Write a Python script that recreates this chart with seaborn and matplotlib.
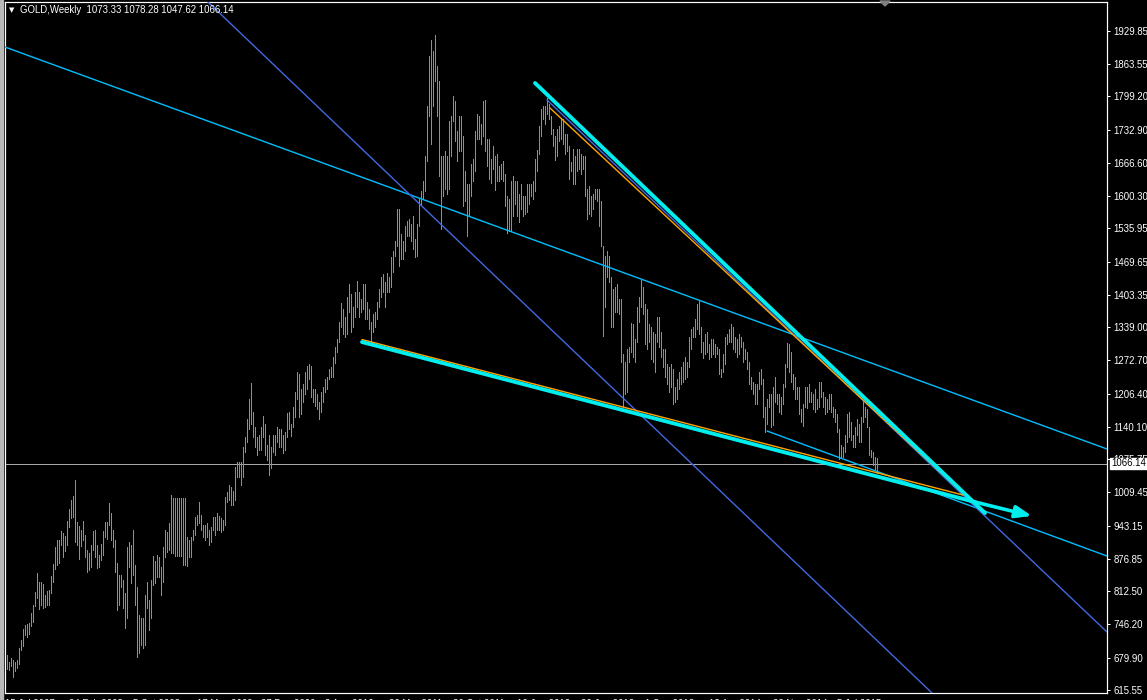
import numpy as np
import matplotlib
matplotlib.use("Agg")
import matplotlib.pyplot as plt
import seaborn as sns
from matplotlib.patches import Polygon, Rectangle

# ---------------- data (weekly GOLD highs / lows, bar 0 = week of 15 Jul 2007) -------------
highs_2007 = [684, 686, 672, 680, 675, 672, 676, 700, 716, 738, 745, 748, 750, 769, 785, 810,
              848, 830, 830, 826, 806, 813, 815, 842, 866]
lows_2007 = [662, 658, 655, 663, 642, 654, 660, 668, 696, 704, 725, 722, 727, 744, 752, 784,
             800, 778, 786, 780, 781, 785, 785, 808, 830]
highs_2008 = [900, 915, 915, 933, 928, 923, 952, 976, 994, 1003, 1034, 950, 943, 935, 952, 925,
              895, 888, 905, 932, 935, 905, 885, 907, 932, 950, 950, 988, 968, 935, 915, 868,
              845, 845, 835, 808, 900, 910, 905, 935, 865, 820, 765, 760, 760, 805, 830, 795,
              835, 882, 872, 885]
lows_2008 = [856, 865, 868, 905, 880, 893, 905, 940, 958, 960, 910, 905, 876, 903, 915, 880,
             850, 855, 860, 895, 880, 858, 860, 875, 885, 920, 917, 945, 915, 900, 850, 775,
             785, 820, 780, 740, 760, 860, 828, 845, 785, 681, 690, 705, 700, 705, 780, 735,
             760, 825, 828, 840]
highs_2009 = [880, 860, 900, 935, 930, 948, 1004, 998, 998, 998, 998, 998, 998, 998, 921, 915,
              920, 935, 960, 965, 990, 965, 945, 945, 948, 935, 940, 960, 960, 968, 962, 958,
              955, 1000, 1010, 1025, 1020, 1012, 1060, 1071, 1070, 1070, 1100, 1120, 1155, 1196,
              1227, 1170, 1140, 1120, 1125, 1140]
lows_2009 = [840, 805, 830, 880, 890, 895, 889, 889, 882, 882, 882, 882, 864, 864, 863, 880,
             880, 915, 925, 945, 948, 935, 920, 915, 920, 905, 910, 935, 925, 935, 935, 930,
             935, 945, 990, 995, 985, 985, 995, 1040, 1040, 1025, 1040, 1090, 1110, 1135,
             1145, 1120, 1100, 1085, 1095, 1095]
highs_2010 = [1162, 1145, 1105, 1125, 1100, 1125, 1125, 1140, 1135, 1135, 1125, 1130, 1168, 1170,
              1145, 1180, 1210, 1249, 1245, 1215, 1225, 1250, 1262, 1265, 1262, 1215, 1215, 1205,
              1190, 1210, 1220, 1235, 1240, 1255, 1260, 1280, 1300, 1315, 1350, 1388, 1375, 1360,
              1400, 1425, 1405, 1380, 1410, 1432, 1410, 1395, 1425, 1425]
lows_2010 = [1120, 1085, 1075, 1045, 1058, 1090, 1085, 1110, 1100, 1100, 1088, 1095, 1120, 1135,
             1123, 1140, 1160, 1195, 1160, 1165, 1190, 1205, 1215, 1235, 1200, 1190, 1182, 1175,
             1155, 1170, 1190, 1210, 1215, 1235, 1240, 1240, 1268, 1290, 1310, 1340, 1325, 1320,
             1325, 1370, 1330, 1340, 1360, 1380, 1360, 1370, 1375, 1355]
highs_2011 = [1390, 1375, 1350, 1365, 1370, 1390, 1415, 1440, 1445, 1430, 1448, 1440, 1478, 1490,
              1510, 1575, 1575, 1525, 1510, 1540, 1550, 1555, 1545, 1560, 1515, 1545, 1595, 1610,
              1630, 1680, 1780, 1880, 1912, 1890, 1921, 1860, 1830, 1680, 1680, 1690, 1680, 1750,
              1760, 1800, 1790, 1730, 1760, 1760, 1720, 1650, 1625, 1625]
lows_2011 = [1355, 1335, 1310, 1330, 1340, 1355, 1380, 1400, 1410, 1380, 1410, 1410, 1420, 1450,
             1480, 1500, 1462, 1475, 1475, 1490, 1520, 1520, 1510, 1495, 1478, 1480, 1540, 1585,
             1595, 1610, 1670, 1760, 1705, 1780, 1830, 1760, 1640, 1535, 1600, 1615, 1605, 1615,
             1680, 1750, 1710, 1670, 1690, 1690, 1580, 1590, 1520, 1560]
highs_2012 = [1665, 1675, 1730, 1765, 1760, 1745, 1790, 1792, 1715, 1715, 1675, 1700, 1680, 1685,
              1660, 1665, 1670, 1645, 1600, 1595, 1630, 1640, 1630, 1630, 1605, 1625, 1600, 1600,
              1625, 1625, 1625, 1630, 1675, 1692, 1740, 1775, 1780, 1780, 1795, 1785, 1760, 1735,
              1720, 1735, 1740, 1755, 1755, 1725, 1725, 1700, 1668, 1695, 1680]
lows_2012 = [1600, 1630, 1650, 1715, 1715, 1705, 1720, 1690, 1660, 1635, 1627, 1655, 1612, 1630,
             1630, 1635, 1630, 1580, 1527, 1530, 1530, 1560, 1585, 1560, 1548, 1575, 1560, 1565,
             1568, 1585, 1600, 1595, 1610, 1650, 1685, 1720, 1755, 1745, 1765, 1755, 1725, 1700,
             1672, 1680, 1710, 1715, 1705, 1685, 1690, 1635, 1650, 1625, 1625]
highs_2013 = [1695, 1695, 1685, 1680, 1680, 1615, 1620, 1600, 1605, 1615, 1615, 1615, 1590, 1500,
              1480, 1490, 1480, 1440, 1415, 1420, 1425, 1395, 1395, 1285, 1270, 1295, 1300, 1348,
              1345, 1315, 1380, 1400, 1434, 1420, 1385, 1375, 1345, 1340, 1330, 1325, 1360, 1360,
              1330, 1295, 1295, 1265, 1260, 1265, 1255, 1220, 1235, 1250]
lows_2013 = [1650, 1655, 1645, 1655, 1600, 1555, 1565, 1560, 1575, 1595, 1590, 1540, 1500, 1321,
             1380, 1440, 1430, 1340, 1340, 1370, 1370, 1365, 1270, 1180, 1205, 1210, 1270, 1290,
             1280, 1270, 1310, 1350, 1380, 1365, 1305, 1295, 1310, 1275, 1270, 1250, 1310, 1300,
             1280, 1260, 1240, 1225, 1210, 1220, 1185, 1190, 1195, 1215]
highs_2014 = [1260, 1270, 1280, 1270, 1320, 1335, 1340, 1355, 1385, 1392, 1340, 1310, 1325, 1330,
              1305, 1315, 1315, 1305, 1300, 1295, 1255, 1285, 1320, 1325, 1335, 1345, 1340, 1320,
              1315, 1325, 1320, 1310, 1295, 1290, 1270, 1240, 1230, 1225, 1225, 1250, 1255, 1235,
              1180, 1195, 1205, 1205, 1220, 1240, 1205, 1205, 1200, 1225]
lows_2014 = [1225, 1230, 1235, 1240, 1260, 1295, 1320, 1320, 1335, 1325, 1290, 1277, 1285, 1290,
             1275, 1280, 1285, 1280, 1285, 1245, 1240, 1250, 1265, 1305, 1310, 1310, 1295, 1290,
             1280, 1285, 1300, 1270, 1275, 1255, 1225, 1215, 1205, 1185, 1185, 1215, 1225, 1160,
             1130, 1145, 1180, 1140, 1143, 1190, 1185, 1170, 1165, 1185]
highs_2015 = [1265, 1307, 1305, 1290, 1245, 1240, 1220, 1220, 1175, 1185, 1220, 1220, 1225, 1210,
              1205, 1215, 1195, 1230, 1230, 1210, 1200, 1195, 1205, 1205, 1180, 1175, 1165, 1135,
              1105, 1100, 1125, 1165, 1170, 1150, 1125, 1140, 1155, 1145, 1160, 1192, 1180, 1175,
              1140, 1095, 1090, 1080, 1078]
lows_2015 = [1220, 1260, 1250, 1230, 1215, 1195, 1195, 1165, 1150, 1142, 1180, 1178, 1190, 1190,
             1175, 1170, 1175, 1180, 1200, 1180, 1165, 1170, 1175, 1170, 1160, 1150, 1130, 1077,
             1080, 1080, 1090, 1110, 1120, 1115, 1100, 1100, 1125, 1110, 1110, 1150, 1160, 1140,
             1085, 1080, 1065, 1055, 1048]

highs = (highs_2007 + highs_2008 + highs_2009 + highs_2010 + highs_2011 + highs_2012 +
         highs_2013 + highs_2014 + highs_2015)
lows = (lows_2007 + lows_2008 + lows_2009 + lows_2010 + lows_2011 + lows_2012 +
        lows_2013 + lows_2014 + lows_2015)

title_text = "GOLD,Weekly  1073.33 1078.28 1047.62 1066.14"
last_close = 1066.14
last_close_label = "1066.14"

price_ticks = [615.55, 679.90, 746.20, 812.50, 876.85, 943.15, 1009.45, 1075.75, 1140.10,
               1206.40, 1272.70, 1339.00, 1403.35, 1469.65, 1535.95, 1600.30, 1666.60,
               1732.90, 1799.20, 1863.55, 1929.85]
price_tick_labels = ["615.55", "679.90", "746.20", "812.50", "876.85", "943.15", "1009.45",
                     "1075.75", "1140.10", "1206.40", "1272.70", "1339.00", "1403.35",
                     "1469.65", "1535.95", "1600.30", "1666.60", "1732.90", "1799.20",
                     "1863.55", "1929.85"]
date_tick_bars = [0, 32, 64, 96, 128, 160, 192, 224, 256, 288, 320, 352, 384, 416]
date_tick_labels = ["15 Jul 2007", "24 Feb 2008", "5 Oct 2008", "17 May 2009", "27 Dec 2009",
                    "8 Aug 2010", "20 Mar 2011", "30 Oct 2011", "10 Jun 2012", "20 Jan 2013",
                    "1 Sep 2013", "13 Apr 2014", "23 Nov 2014", "5 Jul 2015"]

# trend lines: (bar index, price) anchor pairs
ray_long_x, ray_long_y = [0, 551], [1897.6, 1096.1]            # deep sky blue
channel_x, channel_y = [381, 551], [1132.0, 882.7]             # deep sky blue (from Nov-14 low)
steep_x, steep_y = [95, 470], [2012.1, 584.9]                   # royal blue
upper_thin_x, upper_thin_y = [271, 551], [1792.0, 731.2]        # royal blue
upper_orange_x, upper_orange_y = [272.5, 481], [1776.0, 1000.4]
lower_orange_x, lower_orange_y = [178.5, 479], [1314.4, 1004.4]
upper_thick_x, upper_thick_y = [265, 490], [1825.9, 968.5]
lower_thick_x, lower_thick_y = [178.5, 485], [1309.4, 990.4]
arrow_x, arrow_y = [485, 513.5], [990.4, 962.5]

# ---------------- drawing ----------------
sns.set_theme(style="dark")
plt.rcParams['font.family'] = ['Liberation Sans', 'DejaVu Sans']

W, H = 1147, 700
fig = plt.figure(figsize=(W / 100, H / 100), dpi=100, facecolor="black")
ax = fig.add_axes([5 / W, 7 / H, 1102 / W, 691 / H])
ax.set_facecolor("black")
ax.grid(False)
ax.set_xlim(0, 551)
ax.set_ylim(609.6, 1987.4)

px = 0.72  # one pixel in points

ax.axhline(last_close, color="#A8A8A8", lw=px, zorder=1)

bars_x = np.arange(len(highs))
ax.vlines(bars_x, lows, highs, colors="#32D22A", linewidth=px, antialiased=False, zorder=2)

def seg(xs, ys, color, lw, z=3):
    sns.lineplot(x=xs, y=ys, ax=ax, color=color, linewidth=lw, zorder=z, sort=False,
                 legend=False, estimator=None)

seg(ray_long_x, ray_long_y, "#00BFFF", 1.0)
seg(channel_x, channel_y, "#00BFFF", 1.0)
seg(steep_x, steep_y, "#4169E1", 1.0)
seg(upper_thin_x, upper_thin_y, "#4169E1", 1.0)
seg(upper_orange_x, upper_orange_y, "#FFA500", 1.0)
seg(lower_orange_x, lower_orange_y, "#FFA500", 1.0)
seg(upper_thick_x, upper_thick_y, "#00EEEE", 2.8, z=4)
seg(lower_thick_x, lower_thick_y, "#00EEEE", 2.8, z=4)
ax.annotate("", xy=(arrow_x[1], arrow_y[1]), xytext=(arrow_x[0], arrow_y[0]),
            arrowprops=dict(arrowstyle="-|>,head_length=0.8,head_width=0.3",
                            color="#00EEEE", lw=2.6, shrinkA=0, shrinkB=0), zorder=4)

for s in ax.spines.values():
    s.set_color("white")
    s.set_linewidth(px * 1.2)

ax.yaxis.tick_right()
ax.set_yticks(price_ticks)
ax.set_yticklabels(price_tick_labels)
ax.tick_params(axis="y", colors="white", length=2.5, width=px, pad=2, labelsize=6.9,
               direction="out")
ax.set_xticks(date_tick_bars)
ax.set_xticklabels(date_tick_labels)
ax.tick_params(axis="x", colors="white", length=3, width=px, pad=1.2, labelsize=6.9,
               direction="out")
for lab in ax.get_xticklabels():
    lab.set_ha("left")
ax.set_xlabel("")
ax.set_ylabel("")

# current price box on axis
fig.text(1111 / W, 1 - 463.5 / H, last_close_label, ha="left", va="center", fontsize=6.9,
         color="black", zorder=10,
         bbox=dict(boxstyle="square,pad=0.1", fc="white", ec="white"))

# header
fig.text(9 / W, 1 - 10 / H, "\u25bc", color="white", fontsize=5, ha="left", va="center",
         family=["DejaVu Sans"])
fig.text(20 / W, 1 - 10 / H, title_text, color="white", fontsize=6.9, ha="left", va="center")

# window edge & chart shift marker
fig.patches.append(Rectangle((0, 0), 2.5 / W, 1, transform=fig.transFigure, color="#B8B8B8"))
fig.patches.append(Polygon([(880 / W, 1 - 1 / H), (890 / W, 1 - 1 / H), (885 / W, 1 - 6 / H)],
                           closed=True, transform=fig.transFigure, color="#808080"))

fig.savefig("out.png", dpi=100, facecolor="black")
